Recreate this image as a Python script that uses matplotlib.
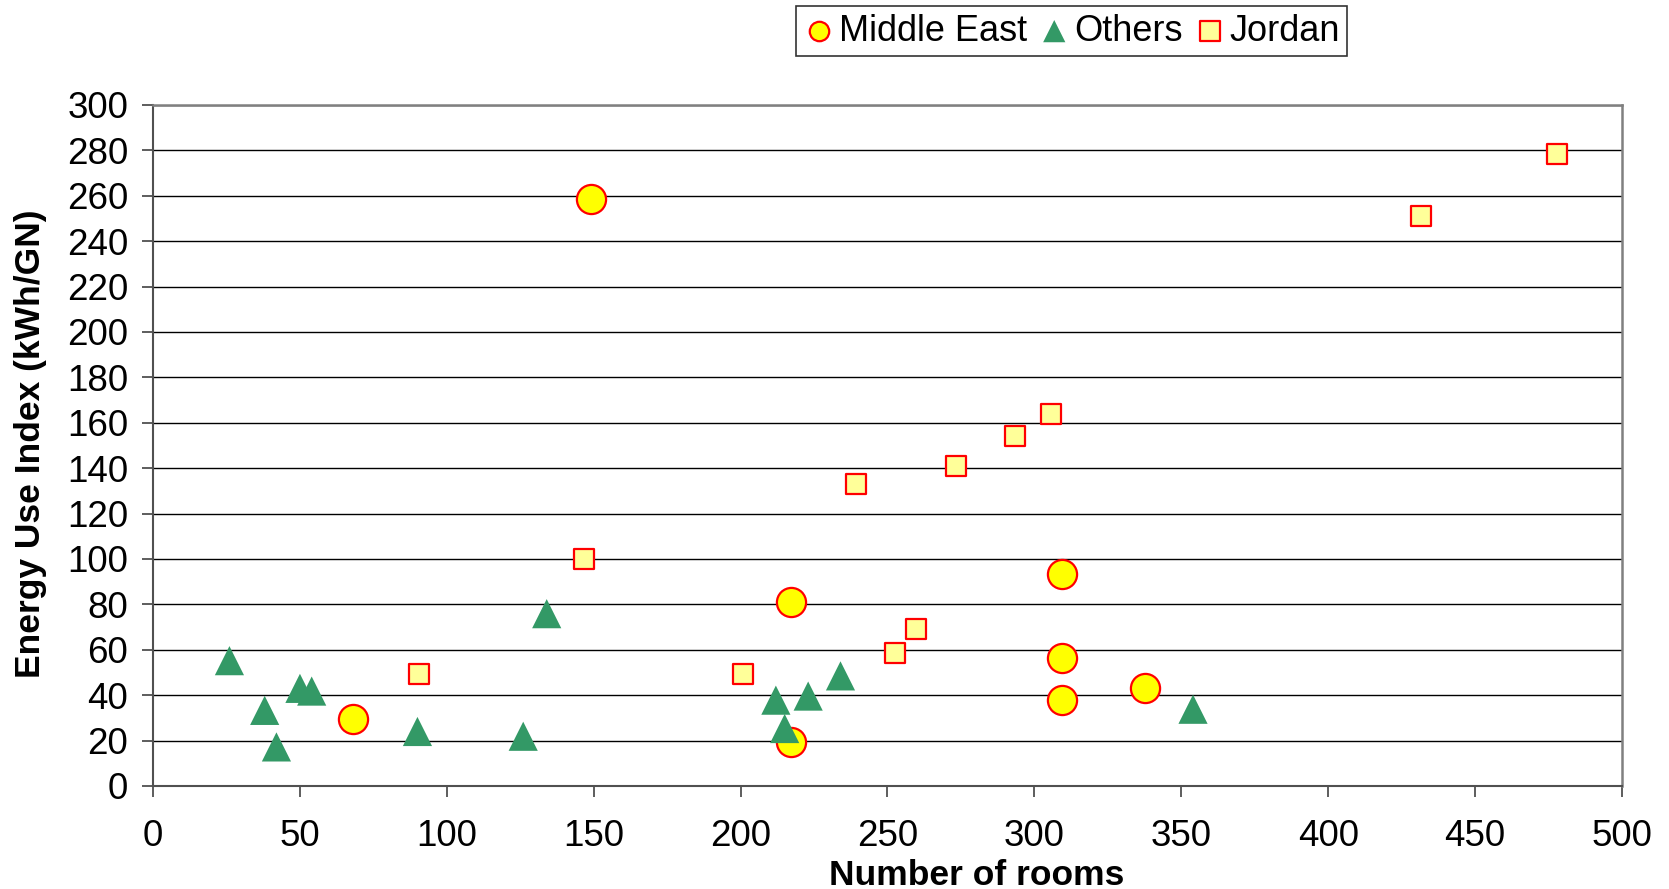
import matplotlib
matplotlib.use('Agg')
import matplotlib.pyplot as plt

plt.rcParams['font.family'] = ['Liberation Sans', 'DejaVu Sans']

# Middle East hotels
me_rooms = [149, 68, 217, 217, 309.5, 309.5, 309.5, 337.5]
me_eui = [258.5, 29.5, 81, 19.3, 93.5, 56.5, 37.7, 43]

# Others
ot_rooms = [26, 38, 42, 50, 54, 90, 126, 134, 212, 215, 223, 234, 354]
ot_eui = [55.2, 33.3, 17.2, 43, 41.8, 24, 21.9, 75.9, 37.8, 25.3, 39.6, 48.5, 33.8]

# Jordan
jo_rooms = [90.6, 146.7, 200.8, 239.3, 252.7, 259.7, 273.4, 293.3, 305.7, 431.5, 477.8]
jo_eui = [49.3, 100.1, 49.3, 132.9, 58.6, 69.3, 140.9, 154.0, 163.8, 251.3, 278.3]

fig = plt.figure(figsize=(16.69, 8.89), dpi=100)
ax = fig.add_axes([0.0917, 0.1159, 0.8801, 0.766])

ax.scatter(me_rooms, me_eui, s=21 ** 2, marker='o', facecolor='#FFFF00',
           edgecolor='#FF0000', linewidth=1.6, zorder=3, label='Middle East')
ax.scatter(ot_rooms, ot_eui, s=21 ** 2, marker='^', facecolor='#339966',
           edgecolor='none', zorder=4, label='Others')
ax.scatter(jo_rooms, jo_eui, s=14.5 ** 2, marker='s', facecolor='#FFFF99',
           edgecolor='#FF0000', linewidth=1.6, zorder=3, label='Jordan')

ax.set_xlim(0, 500)
ax.set_ylim(0, 300)
ax.set_xticks(range(0, 501, 50))
ax.set_yticks(range(0, 301, 20))
ax.yaxis.grid(True, color='black', linewidth=1.0)
ax.set_axisbelow(True)

for side in ['top', 'right']:
    ax.spines[side].set_color('#808080')
    ax.spines[side].set_linewidth(1.8)
for side in ['left', 'bottom']:
    ax.spines[side].set_color('#505050')
    ax.spines[side].set_linewidth(1.5)

ax.tick_params(axis='both', direction='out', length=8, width=1.3, color='#505050',
               labelsize=26.5, labelcolor='black')
ax.tick_params(axis='x', pad=16)
ax.tick_params(axis='y', pad=10)

ax.set_xlabel('Number of rooms', fontsize=25.5, fontweight='bold', va='center')
ax.xaxis.set_label_coords(0.561, -0.131)
ax.set_ylabel('Energy Use Index (kWh/GN)', fontsize=25.5, fontweight='bold', va='center')
ax.yaxis.set_label_coords(-0.0837, 0.502)

leg = fig.legend(loc='center', bbox_to_anchor=(0.642, 0.965), ncol=3, fontsize=26,
                 frameon=True, fancybox=False, edgecolor='black', handletextpad=0.1,
                 columnspacing=0.3, borderpad=0.2, handlelength=0.9, scatterpoints=1)
leg.get_frame().set_linewidth(1.2)
for h, s in zip(leg.legend_handles, [196, 256, 188]):
    h.set_sizes([s])

fig.savefig('out.png', dpi=100)
